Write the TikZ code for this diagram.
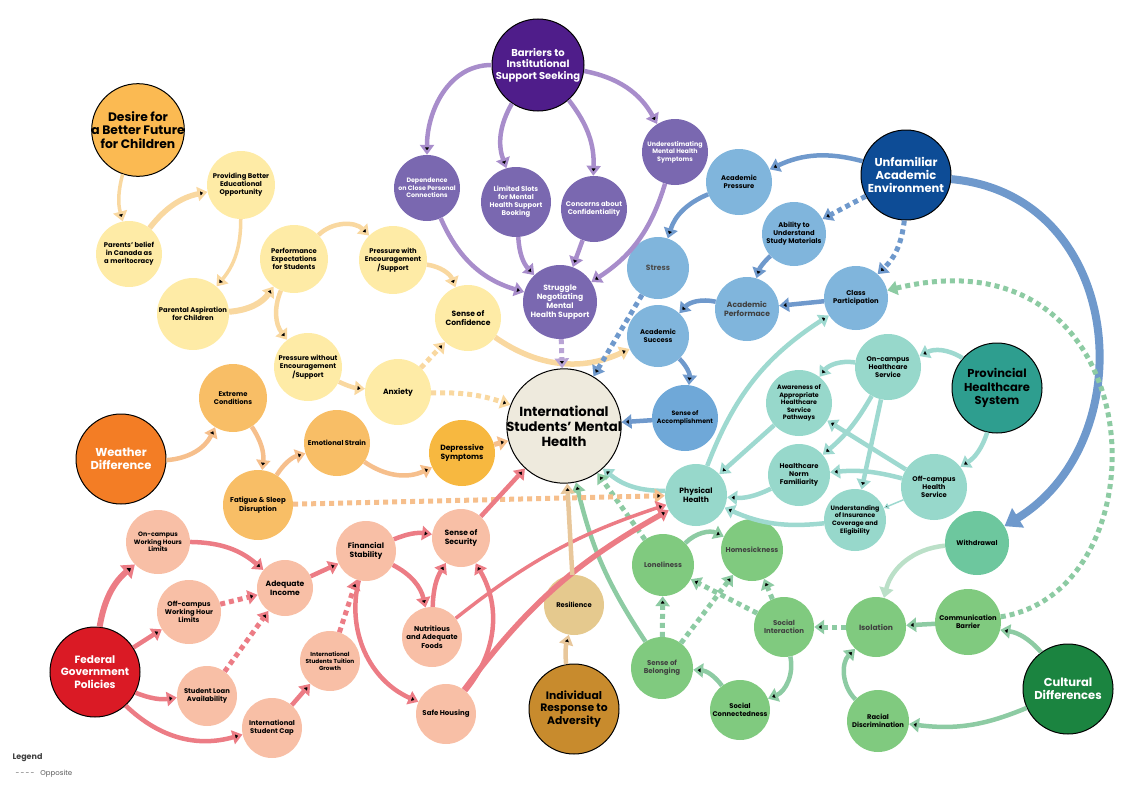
\documentclass[tikz,border=0pt]{standalone}
\usepackage{fontspec}
\setmainfont{Poppins}
\usepackage{tikz}
\usetikzlibrary{arrows.meta, positioning}
\usepackage{xcolor}
\definecolor{yNode}{HTML}{FEEBA6}
\definecolor{yLine}{HTML}{F9D8A0}
\definecolor{oNode}{HTML}{F8BE66}
\definecolor{oLine}{HTML}{F6BF8C}
\definecolor{pNode}{HTML}{7A68B0}
\definecolor{pLine}{HTML}{A88DCB}
\definecolor{bNode}{HTML}{80B5DC}
\definecolor{bLine}{HTML}{6F99CC}
\definecolor{tNode}{HTML}{97D8CB}
\definecolor{tLine}{HTML}{9ED9D0}
\definecolor{gNode}{HTML}{80CA7F}
\definecolor{gLine}{HTML}{8DCBA3}
\definecolor{sNode}{HTML}{F8BFA6}
\definecolor{sLine}{HTML}{EC7C85}
\definecolor{iLine}{HTML}{E8C79B}
\definecolor{cMH}{HTML}{EEEADD}
\definecolor{cDesire}{HTML}{FBBA52}
\definecolor{cBarrier}{HTML}{4F1D8A}
\definecolor{cUnfam}{HTML}{0D4C96}
\definecolor{cProv}{HTML}{2E9E8F}
\definecolor{cCult}{HTML}{1B8440}
\definecolor{cFed}{HTML}{DA1A25}
\definecolor{cWeather}{HTML}{F37D25}
\definecolor{cIndiv}{HTML}{C88B2D}
\definecolor{cResil}{HTML}{E5C98E}
\definecolor{cDepr}{HTML}{F7B840}
\definecolor{cAccomp}{HTML}{6FA8D8}
\definecolor{cWithd}{HTML}{6DC79E}
\newcommand{\fsm}{\fontsize{6.8}{8.1}\selectfont\bfseries}
\newcommand{\fxs}{\fontsize{6.3}{7.6}\selectfont\bfseries}
\newcommand{\fmd}{\fontsize{7.6}{9}\selectfont\bfseries}
\newcommand{\fbg}{\fontsize{11.5}{13.2}\selectfont\bfseries}

\begin{document}
\begin{tikzpicture}[x=1pt, y=1pt,
  dot/.style={circle, inner sep=-3pt, minimum size=#1, align=center, font=\fsm, text=black},
  hub/.style={circle, draw=black, line width=1pt, inner sep=-3pt, minimum size=90pt, align=center, font=\fbg},
  arrowhd/.style={-{Triangle[length=10pt, width=14pt]}},
  ln/.style={draw=#1, line width=4.5pt, arrowhd},
  opp/.style={dash pattern=on 5pt off 4pt, line width=5pt}]
\useasboundingbox (0,0) rectangle (1143,-795);

\node (MH) [circle, draw=black, line width=1pt, minimum size=106pt, inner sep=-3pt, fill=cMH, align=center, font=\fontsize{13.2}{14.8}\selectfont\bfseries] at (564,-426) {International\\Students' Mental\\Health};

\node (DF) [hub, fill=cDesire, font=\fontsize{12.3}{13.8}\selectfont\bfseries] at (138,-130) {Desire for\\a Better Future\\for Children};
\node (PB) [dot=68pt, fill=yNode] at (241,-185) {Providing Better\\Educational\\Opportunity};
\node (PC) [dot=66pt, fill=yNode] at (129,-254) {Parents' belief\\in Canada as\\a meritocracy};
\node (PA) [dot=72pt, fill=yNode] at (193,-314) {Parental Aspiration\\for Children};
\node (PE) [dot=68pt, fill=yNode] at (294,-259) {Performance\\Expectations\\for Students};
\node (PW) [dot=68pt, fill=yNode] at (393,-260) {Pressure with\\Encouragement\\/Support};
\node (SC) [dot=66pt, fill=yNode, font=\fmd] at (468,-318) {Sense of\\Confidence};
\node (PN) [dot=68pt, fill=yNode] at (308,-367) {Pressure without\\Encouragement\\/Support};
\node (AX) [dot=66pt, fill=yNode, font=\fmd] at (398,-392) {Anxiety};

\node (BR) [hub, fill=cBarrier, minimum size=92pt, text=white, font=\fontsize{10}{11.5}\selectfont\bfseries] at (538,-65) {Barriers to\\Institutional\\Support Seeking};
\node (DC) [dot=66pt, fill=pNode, text=white, font=\fxs] at (427,-188) {Dependence\\on Close Personal\\Connections};
\node (LS) [dot=70pt, fill=pNode, text=white] at (516,-202) {Limited Slots\\for Mental\\Health Support\\Booking};
\node (CC) [dot=66pt, fill=pNode, text=white] at (594,-209) {Concerns about\\Confidentiality};
\node (UM) [dot=66pt, fill=pNode, text=white, font=\fxs] at (675,-152) {Underestimating\\Mental Health\\Symptoms};
\node (SN) [dot=74pt, fill=pNode, text=white, font=\fmd] at (560,-302) {Struggle\\Negotiating\\Mental\\Health Support};

\node (UA) [hub, fill=cUnfam, text=white] at (906,-175) {Unfamiliar\\Academic\\Environment};
\node (AP) [dot=66pt, fill=bNode] at (739,-182) {Academic\\Pressure};
\node (AU) [dot=64pt, fill=bNode] at (794,-234) {Ability to\\Understand\\Study Materials};
\node (ST) [dot=62pt, fill=bNode, font=\fmd, text=black!70] at (658,-268) {Stress};
\node (AF) [dot=64pt, fill=bNode, font=\fmd, text=black!75] at (747,-309) {Academic\\Performace};
\node (CP) [dot=64pt, fill=bNode] at (856,-298) {Class\\Participation};
\node (AS) [dot=62pt, fill=bNode] at (658,-336) {Academic\\Success};
\node (SA) [dot=66pt, fill=cAccomp, font=\fxs] at (685,-418) {Sense of\\Accomplishment};

\node (PH) [hub, fill=cProv] at (997,-388) {Provincial\\Healthcare\\System};
\node (OC) [dot=66pt, fill=tNode] at (888,-367) {On-campus\\Healthcare\\Service};
\node (AW) [dot=66pt, fill=tNode, font=\fxs] at (799,-403) {Awareness of\\Appropriate\\Healthcare\\Service\\Pathways};
\node (HN) [dot=62pt, fill=tNode] at (799,-475) {Healthcare\\Norm\\Familiarity};
\node (OF) [dot=66pt, fill=tNode] at (934,-487) {Off-campus\\Health\\Service};
\node (UI) [dot=62pt, fill=tNode, font=\fxs] at (855,-520) {Understanding\\of Insurance\\Coverage and\\Eligibility};
\node (PY) [dot=62pt, fill=tNode, font=\fmd] at (696,-495) {Physical\\Health};

\node (WD) [dot=64pt, fill=cWithd] at (977,-543) {Withdrawal};
\node (CB) [dot=66pt, fill=gNode] at (968,-622) {Communication\\Barrier};
\node (IS) [dot=60pt, fill=gNode, font=\fmd, text=black!75] at (876,-627) {Isolation};
\node (RD) [dot=62pt, fill=gNode] at (878,-721) {Racial\\Discrimination};
\node (CD) [hub, fill=cCult, text=white] at (1068,-689) {Cultural\\Differences};
\node (SI) [dot=60pt, fill=gNode, text=black!75, font=\fontsize{7}{8.4}\selectfont\bfseries] at (784,-627) {Social\\Interaction};
\node (SX) [dot=60pt, fill=gNode] at (740,-710) {Social\\Connectedness};
\node (SB) [dot=62pt, fill=gNode, text=black!75, font=\fontsize{7}{8.4}\selectfont\bfseries] at (662,-668) {Sense of\\Belonging};
\node (LN) [dot=62pt, fill=gNode, text=black!75, font=\fontsize{7}{8.4}\selectfont\bfseries] at (663,-565) {Loneliness};
\node (HS) [dot=62pt, fill=gNode, text=black!75, font=\fontsize{7}{8.4}\selectfont\bfseries] at (752,-550) {Homesickness};

\node (WE) [hub, fill=cWeather, text=white] at (121,-459) {Weather\\Difference};
\node (EC) [dot=68pt, fill=oNode] at (233,-398) {Extreme\\Conditions};
\node (ES) [dot=66pt, fill=oNode] at (337,-443) {Emotional Strain};
\node (FS) [dot=70pt, fill=oNode, font=\fontsize{7}{8.4}\selectfont\bfseries] at (258,-505) {Fatigue \& Sleep\\Disruption};
\node (DS) [dot=66pt, fill=cDepr, font=\fmd] at (462,-453) {Depressive\\Symptoms};

\node (FG) [hub, fill=cFed, text=white, font=\fontsize{10.5}{12.3}\selectfont\bfseries] at (95,-672) {Federal\\Government\\Policies};
\node (OW) [dot=64pt, fill=sNode, font=\fxs] at (158,-542) {On-campus\\Working Hours\\Limits};
\node (FW) [dot=64pt, fill=sNode] at (189,-612) {Off-campus\\Working Hour\\Limits};
\node (AI) [dot=56pt, fill=sNode, font=\fmd] at (285,-588) {Adequate\\Income};
\node (FT) [dot=60pt, fill=sNode, font=\fmd] at (366,-551) {Financial\\Stability};
\node (SS) [dot=58pt, fill=sNode, font=\fmd] at (461,-538) {Sense of\\Security};
\node (NF) [dot=60pt, fill=sNode, font=\fontsize{7}{8.4}\selectfont\bfseries] at (432,-637) {Nutritious\\and Adequate\\Foods};
\node (SH) [dot=60pt, fill=sNode, font=\fontsize{7}{8.4}\selectfont\bfseries] at (446,-714) {Safe Housing};
\node (TG) [dot=60pt, fill=sNode, font=\fontsize{5.8}{7}\selectfont\bfseries] at (330,-661) {International\\Students Tuition\\Growth};
\node (SL) [dot=60pt, fill=sNode] at (207,-696) {Student Loan\\Availability};
\node (IC) [dot=60pt, fill=sNode] at (272,-728) {International\\Student Cap};

\node (RS) [dot=60pt, fill=cResil] at (574,-605) {Resilience};
\node (IR) [hub, fill=cIndiv, font=\fontsize{10.8}{12.5}\selectfont\bfseries] at (574,-709) {Individual\\Response to\\Adversity};

\node (LG) [anchor=west, text=black!75, font=\fontsize{8}{9}\selectfont\bfseries] at (9,-758) {Legend};
\node (LO) [anchor=west, text=black!65, font=\fontsize{7}{8}\selectfont] at (12,-774) {-\,-\,-\,-\hspace{6pt}Opposite};

\path[ln=yLine] (DF) edge[bend right=15, line width=3.5pt] (PC)
  (PC) edge[bend left=20, line width=5.5pt] (PB)
  (PB) edge[bend left=20, line width=3.5pt] (PA)
  (PA) edge[bend right=25, line width=6pt] (PE)
  (PE) edge[bend left=45] (PW)
  (PE) edge[bend right=30] (PN)
  (PW) edge[bend left=30] (SC)
  (PN) edge[bend right=10] (AX)
  (SC) edge[bend right=30, line width=5.5pt] (AS);
\path[ln=yLine, opp] (AX) edge (SC)
  (AX) edge[bend left=10] (MH);

\path[ln=pLine] (BR) edge[out=180, in=90] (DC)
  (BR) edge[bend right=25] (LS)
  (BR) edge[bend left=20] (CC)
  (BR) edge[bend left=25] (UM)
  (DC) edge[bend right=25] (SN)
  (LS) edge[bend right=20] (SN)
  (CC) edge (SN)
  (UM) edge[bend left=20] (SN);
\path[ln=pLine!80, opp] (SN) edge (MH);

\path[ln=bLine] (UA) edge[bend right=20] (AP)
  (AP) edge[bend right=25] (ST)
  (AU) edge[bend right=15] (AF)
  (CP) edge (AF)
  (AF) edge[bend right=30] (AS)
  (AS) edge[bend left=25] (SA)
  (SA) edge (MH);
\path[ln=bLine, opp] (UA) edge (AU)
  (UA) edge[bend left=20] (CP)
  (ST) edge (MH);
\draw[ln=bLine, line width=8pt, -{Triangle[length=16pt, width=22pt]}] (UA) .. controls (1125,-195) and (1145,-440) .. (WD);

\path[ln=tLine] (PH) edge[bend right=30] (OC)
  (PH) edge[bend left=20] (OF)
  (OC) edge[bend right=30] (AW)
  (OC) edge[bend left=10] (HN)
  (OC) edge (UI)
  (OF) edge (AW)
  (OF) edge[bend right=10] (HN)
  (OF) edge[line width=1.5pt, -{Triangle[length=5pt, width=6pt]}] (UI)
  (AW) edge (PY)
  (HN) edge[bend left=15] (PY)
  (UI) edge[bend left=15] (PY)
  (PY) edge[bend left=18] (CP)
  (PY) edge[bend left=20] (MH);

\path[ln=gLine] (CD) edge[bend right=20] (CB)
  (CD) edge[bend left=15] (RD)
  (CB) edge (IS)
  (RD) edge[bend left=45] (IS)
  (WD) edge[bend right=35, draw=gLine!60] (IS)
  (SI) edge[bend left=40] (SX)
  (SX) edge[bend right=25] (SB)
  (LN) edge[bend left=35] (HS)
  (SB) edge[bend left=10] (MH);
\path[ln=gLine, opp] (IS) edge (SI)
  (SI) edge (HS)
  (SI) edge (LN)
  (SB) edge (LN)
  (SB) edge (HS)
  (LN) edge (MH);
\draw[ln=gLine, opp] (CB) .. controls (1170,-590) and (1155,-225) .. (CP);

\path[ln=oLine] (WE) edge[bend right=30] (EC)
  (EC) edge[bend left=20] (FS)
  (FS) edge[bend left=20] (ES)
  (ES) edge[bend right=30] (DS);
\path[ln=oLine, opp] (DS) edge (MH)
  (FS) edge (PY);

\path[ln=sLine] (FG) edge[bend left=20, line width=6pt, -{Triangle[length=12pt, width=17pt]}] (OW)
  (FG) edge (FW)
  (FG) edge[bend right=15] (SL)
  (FG) edge[bend right=30] (IC)
  (OW) edge[bend left=20] (AI)
  (IC) edge (TG)
  (AI) edge (FT)
  (FT) edge[bend left=15] (SS)
  (FT) edge[bend left=25] (NF)
  (FT) edge[bend right=40] (SH)
  (NF) edge[bend left=15] (SS)
  (SH) edge[bend right=35] (SS)
  (SS) edge (MH)
  (NF) edge[bend left=10, line width=3.5pt] (PY)
  (SH) edge[bend left=12, line width=5.5pt] (PY);
\path[ln=sLine, opp] (FW) edge (AI)
  (SL) edge (AI)
  (TG) edge (FT);

\path[ln=iLine] (IR) edge[bend left=10] (RS)
  (RS) edge (MH);
\end{tikzpicture}
\end{document}
